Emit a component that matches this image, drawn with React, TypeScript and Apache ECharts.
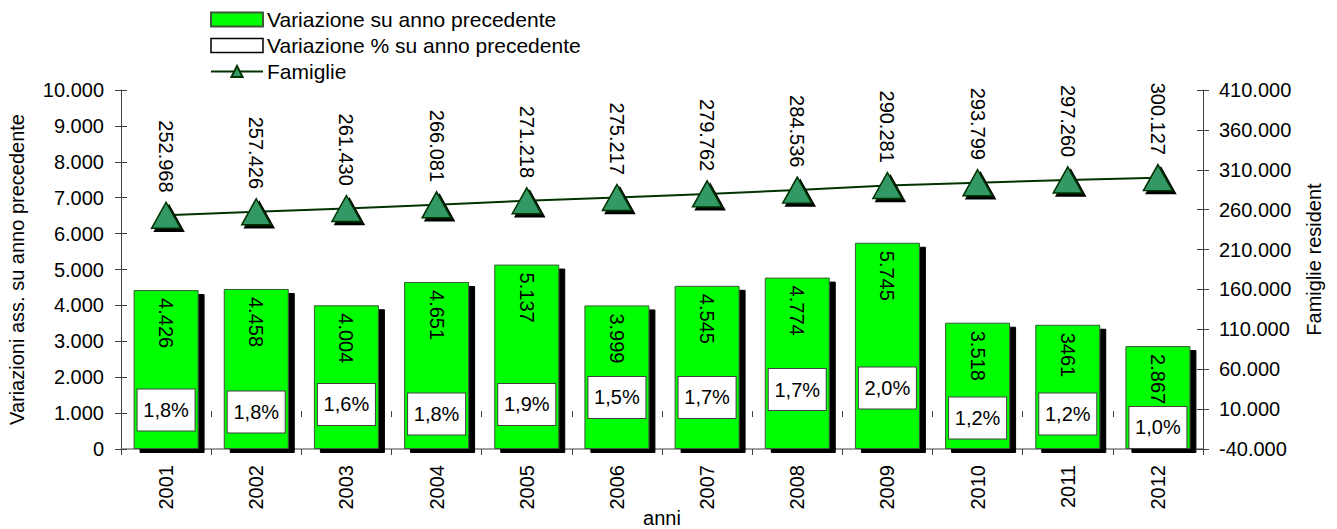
import React, { useEffect, useRef } from "react";
import * as echarts from "echarts";

const years = ["2001", "2002", "2003", "2004", "2005", "2006", "2007", "2008", "2009", "2010", "2011", "2012"];
const barValues = [4426, 4458, 4004, 4651, 5137, 3999, 4545, 4774, 5745, 3518, 3461, 2867];
const barLabels = ["4.426", "4.458", "4.004", "4.651", "5.137", "3.999", "4.545", "4.774", "5.745", "3.518", "3461", "2.867"];
const famiglie = [252968, 257426, 261430, 266081, 271218, 275217, 279762, 284536, 290281, 293799, 297260, 300127];
const pctLabels = ["1,8%", "1,8%", "1,6%", "1,8%", "1,9%", "1,5%", "1,7%", "1,7%", "2,0%", "1,2%", "1,2%", "1,0%"];
// level (left-axis units) where each percentage box sits
const pctBoxLevel = [1086, 1031, 1240, 975, 1240, 1435, 1435, 1657, 1699, 864, 975, 599];

const leftTicks = { min: 0, max: 10000, interval: 1000 };
const rightTicks = { min: -40000, max: 410000, interval: 50000 };

const FONT = "'Liberation Sans', Arial, sans-serif";
const FS = 20;

function fmt(n: number): string {
  const s = Math.abs(Math.round(n)).toString();
  const out = s.replace(/\B(?=(\d{3})+(?!\d))/g, ".");
  return (n < 0 ? "-" : "") + out;
}

export default function App() {
  const ref = useRef<HTMLDivElement>(null);
  useEffect(() => {
    if (!ref.current) return;
    const chart = echarts.init(ref.current, undefined, { renderer: "svg" });
    const grid = { left: 121, right: 134, top: 90, bottom: 80, containLabel: false, outerBoundsMode: "none" };
    chart.setOption({
      animation: false,
      textStyle: { fontFamily: FONT, color: "#000" },
      grid,
      legend: {
        orient: "vertical",
        left: 210,
        top: 9,
        padding: 0,
        itemWidth: 52,
        itemHeight: 14,
        itemGap: 5,
        textStyle: { fontSize: 21, color: "#000", fontFamily: FONT, padding: [0, 0, 0, -1] },
        itemStyle: { shadowBlur: 0, shadowOffsetX: 0, shadowOffsetY: 0, shadowColor: "transparent" },
        data: [
          { name: "Variazione su anno precedente", icon: "rect" },
          {
            name: "Variazione % su anno precedente",
            icon: "rect",
            itemStyle: { color: "#fff", borderColor: "#000", borderWidth: 1.5 },
          },
          { name: "Famiglie" },
        ],
      },
      xAxis: [
        {
          type: "category",
          data: years,
          name: "anni",
          nameLocation: "middle",
          nameGap: 69,
          nameMoveOverlap: false,
          nameTextStyle: { fontSize: FS, color: "#000", fontFamily: FONT, verticalAlign: "middle", lineHeight: 20 },
          axisLine: { lineStyle: { color: "#808080", width: 1.5 } },
          axisTick: { show: true, length: 6, lineStyle: { color: "#404040" } },
          axisLabel: { rotate: 90, fontSize: FS, color: "#000", margin: 16, fontFamily: FONT },
        },
        {
          type: "category",
          data: years,
          position: "bottom",
          axisLine: { show: false },
          axisTick: { show: true, inside: true, length: 6, lineStyle: { color: "#404040" } },
          axisLabel: { show: false },
        },
      ],
      yAxis: [
        {
          type: "value",
          position: "left",
          ...leftTicks,
          name: "Variazioni ass. su anno precedente",
          nameLocation: "middle",
          nameRotate: 90,
          nameGap: 94,
          nameMoveOverlap: false,
          nameTextStyle: { fontSize: FS, color: "#000", fontFamily: FONT },
          axisLine: { show: true, lineStyle: { color: "#404040", width: 1 } },
          axisTick: { show: true, length: 6, lineStyle: { color: "#404040" } },
          axisLabel: { fontSize: FS, color: "#000", margin: 17, formatter: (v: number) => fmt(v), fontFamily: FONT },
          splitLine: { show: false },
        },
        {
          type: "value",
          position: "right",
          ...rightTicks,
          name: "Famiglie resident",
          nameLocation: "middle",
          nameRotate: 90,
          nameGap: 101,
          nameMoveOverlap: false,
          nameTextStyle: { fontSize: FS, color: "#000", fontFamily: FONT, padding: [0, 0, 0, 20] },
          axisLine: { show: true, lineStyle: { color: "#404040", width: 1 } },
          axisTick: { show: true, length: 6, lineStyle: { color: "#404040" } },
          axisLabel: { fontSize: FS, color: "#000", margin: 16, formatter: (v: number) => fmt(v), fontFamily: FONT },
          splitLine: { show: false },
        },
        {
          type: "value",
          position: "left",
          ...leftTicks,
          axisLine: { show: false },
          axisTick: { show: true, inside: true, length: 6, lineStyle: { color: "#404040" } },
          axisLabel: { show: false },
          splitLine: { show: false },
        },
        {
          type: "value",
          position: "right",
          ...rightTicks,
          axisLine: { show: false },
          axisTick: { show: true, inside: true, length: 6, lineStyle: { color: "#404040" } },
          axisLabel: { show: false },
          splitLine: { show: false },
        },
      ],
      series: [
        {
          name: "Variazione su anno precedente",
          type: "bar",
          yAxisIndex: 0,
          barWidth: 65,
          data: barValues,
          itemStyle: {
            color: "#00ff00",
            borderColor: "#3a5a3a",
            borderWidth: 1,
            shadowColor: "#000",
            shadowBlur: 0,
            shadowOffsetX: 6,
            shadowOffsetY: 4,
          },
          label: {
            show: true,
            position: "insideTop",
            distance: 8,
            rotate: -90,
            align: "left",
            verticalAlign: "middle",
            fontSize: FS,
            color: "#000",
            fontFamily: FONT,
            formatter: (p: any) => barLabels[p.dataIndex],
          },
          z: 2,
        },
        {
          name: "Variazione % su anno precedente",
          type: "scatter",
          yAxisIndex: 0,
          data: pctBoxLevel,
          symbol: "rect",
          symbolSize: 1,
          itemStyle: { color: "rgba(0,0,0,0)", opacity: 1 },
          label: {
            show: true,
            position: "inside",
            formatter: (p: any) => pctLabels[p.dataIndex],
            backgroundColor: "#fff",
            borderColor: "#404040",
            borderWidth: 1,
            width: 57,
            height: 41,
            lineHeight: 41,
            align: "center",
            verticalAlign: "middle",
            fontSize: FS,
            color: "#000",
            fontFamily: FONT,
            opacity: 1,
          },
          z: 5,
        },
        {
          name: "Famiglie",
          type: "line",
          yAxisIndex: 1,
          data: famiglie,
          symbol: "triangle",
          symbolSize: [29, 26],
          lineStyle: { color: "#003300", width: 2 },
          itemStyle: {
            color: "#339966",
            borderColor: "#003300",
            borderWidth: 1.5,
            shadowColor: "#000",
            shadowBlur: 0,
            shadowOffsetX: 3,
            shadowOffsetY: 3,
          },
          label: {
            show: true,
            position: "top",
            distance: 9,
            rotate: -90,
            align: "right",
            verticalAlign: "middle",
            fontSize: FS,
            color: "#000",
            fontFamily: FONT,
            formatter: (p: any) => fmt(famiglie[p.dataIndex]),
          },
          z: 6,
        },
      ],
    });
    return () => chart.dispose();
  }, []);
  return <div ref={ref} style={{ width: 1337, height: 529, position: "absolute", left: 0, top: 0, background: "#fff" }} />;
}
